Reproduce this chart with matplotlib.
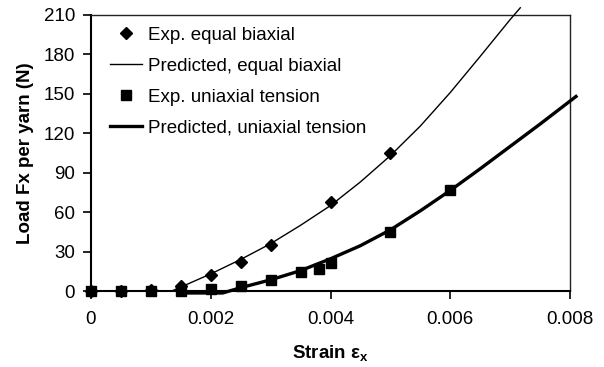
import matplotlib
matplotlib.use("Agg")
import matplotlib.pyplot as plt

plt.rcParams['font.family'] = ['Liberation Sans', 'DejaVu Sans']
plt.rcParams['mathtext.fontset'] = 'custom'
plt.rcParams['mathtext.rm'] = 'Liberation Sans'
plt.rcParams['mathtext.bf'] = 'Liberation Sans:bold'
plt.rcParams['mathtext.it'] = 'Liberation Sans:italic'

# Experimental data
biax_x = [0, 0.0005, 0.001, 0.0015, 0.002, 0.0025, 0.003, 0.004, 0.005]
biax_y = [0, 0, 1, 4, 12, 22, 35, 68, 105]

uni_x = [0, 0.0005, 0.001, 0.0015, 0.002, 0.0025, 0.003, 0.0035, 0.0038, 0.004, 0.005, 0.006]
uni_y = [0, 0, 0, 0, 1.5, 3.5, 8.5, 14.5, 17, 21, 45, 77]

# Predicted curves
pred_biax_x = [0.00135, 0.0015, 0.00175, 0.002, 0.00225, 0.0025, 0.00275, 0.003, 0.0035, 0.004,
               0.0045, 0.005, 0.0055, 0.006, 0.0065, 0.007, 0.00717]
pred_biax_y = [0, 3, 8, 13, 18.5, 24, 30, 36, 50, 65, 83, 103, 125.5, 151, 178.5, 206.5, 215.5]

pred_uni_x = [0.00145, 0.0022, 0.0025, 0.00275, 0.003, 0.0035, 0.004, 0.0045, 0.005, 0.0055,
              0.006, 0.0065, 0.007, 0.0075, 0.008, 0.0081]
pred_uni_y = [-1.5, -1.5, 2.5, 5.5, 8.5, 15.5, 24.5, 34.5, 46.5, 61, 76.5, 93, 110, 127, 144.5, 148]

labels = ['Exp. equal biaxial', 'Predicted, equal biaxial',
          'Exp. uniaxial tension', 'Predicted, uniaxial tension']

xticks = [0, 0.002, 0.004, 0.006, 0.008]
xticklabels = ['0', '0.002', '0.004', '0.006', '0.008']
yticks = [0, 30, 60, 90, 120, 150, 180, 210]

FS = 13.5

fig = plt.figure(figsize=(6.04, 3.67), dpi=100)
ax = fig.add_axes([91/604, 1-291/367, (570-91)/604, (291-15)/367])

h1, = ax.plot(biax_x, biax_y, linestyle='none', marker='D', ms=5.8, color='black',
              clip_on=False, zorder=4, label=labels[0])
h2, = ax.plot(pred_biax_x, pred_biax_y, color='black', lw=1.0, clip_on=False,
              zorder=3, label=labels[1])
h3, = ax.plot(uni_x, uni_y, linestyle='none', marker='s', ms=7.5, color='black',
              clip_on=False, zorder=4, label=labels[2])
h4, = ax.plot(pred_uni_x, pred_uni_y, color='black', lw=2.4, clip_on=False,
              zorder=3, label=labels[3])

ax.set_xlim(0, 0.008)
ax.set_ylim(0, 210)
ax.set_xticks(xticks)
ax.set_xticklabels(xticklabels)
ax.set_yticks(yticks)
ax.tick_params(axis='both', direction='out', length=5.5, width=1.2, labelsize=FS, color='black')
ax.tick_params(axis='x', pad=9)
ax.tick_params(axis='y', pad=6)

for s in ['left', 'bottom']:
    ax.spines[s].set_linewidth(1.5)
    ax.spines[s].set_color('black')
for s in ['top', 'right']:
    ax.spines[s].set_linewidth(1.0)
    ax.spines[s].set_color('#222222')

ax.set_xlabel(r'Strain $\mathregular{ε}_{\mathbf{x}}$', fontsize=FS, fontweight='bold', labelpad=11)
ax.set_ylabel('Load Fx per yarn (N)', fontsize=FS, fontweight='bold', labelpad=7)

leg = ax.legend(handles=[h1, h2, h3, h4], loc='upper left', bbox_to_anchor=(0.040, 0.958),
                frameon=False, fontsize=FS, handlelength=1.7, handletextpad=0.32,
                labelspacing=0.74, borderpad=0, borderaxespad=0, numpoints=1)

fig.savefig('out.png', dpi=100)
